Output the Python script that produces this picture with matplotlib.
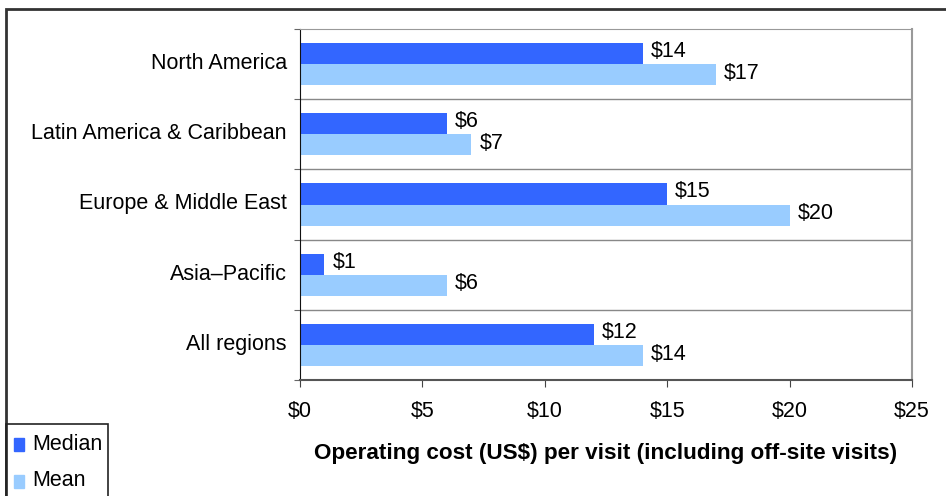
import matplotlib
matplotlib.use("Agg")
import matplotlib.pyplot as plt
from matplotlib.patches import Rectangle
import numpy as np

plt.rcParams['font.family'] = ['Liberation Sans', 'DejaVu Sans']

regions = ["North America", "Latin America & Caribbean", "Europe & Middle East",
           "Asia\u2013Pacific", "All regions"]
median = [14, 6, 15, 1, 12]
mean = [17, 7, 20, 6, 14]
xticks = [0, 5, 10, 15, 20, 25]

c_median = "#3366FF"
c_mean = "#99CCFF"
fs = 15.5

W, H = 946, 496
fig = plt.figure(figsize=(W / 100, H / 100), dpi=100)
ax = fig.add_axes([300 / W, 1 - 380 / H, 612 / W, 351 / H])

n = len(regions)
y = np.arange(n)
bh = 0.3
ax.barh(y - bh / 2, median, height=bh, color=c_median, label="Median")
ax.barh(y + bh / 2, mean, height=bh, color=c_mean, label="Mean")

for yi, v in zip(y, median):
    ax.text(v + 0.33, yi - bh / 2 - 0.03, f"${v}", va="center", ha="left", fontsize=fs)
for yi, v in zip(y, mean):
    ax.text(v + 0.33, yi + bh / 2 - 0.02, f"${v}", va="center", ha="left", fontsize=fs)

ax.set_ylim(n - 0.5, -0.5)
ax.set_xlim(0, 25)
ax.set_yticks(np.arange(-0.5, n, 1), minor=False)
ax.set_yticklabels([])
ax.set_yticks(y - 0.045, minor=True)
ax.set_yticklabels(regions, minor=True, fontsize=fs)
ax.tick_params(axis="y", which="minor", length=0, pad=9.5)
ax.tick_params(axis="y", which="major", length=4, color="#666666")
for b in np.arange(0.5, n - 1, 1):
    ax.axhline(b, color="#888888", lw=1.0)

ax.set_xticks(xticks)
ax.set_xticklabels([f"${t}" for t in xticks], fontsize=fs)
ax.tick_params(axis="x", length=5, color="#444444", pad=10)
ax.set_xlabel("Operating cost (US$) per visit (including off-site visits)",
              fontsize=16.2, fontweight="bold", labelpad=15)

ax.spines["left"].set_color("#111111")
ax.spines["bottom"].set_color("#555555")
ax.spines["bottom"].set_linewidth(1.5)
ax.spines["top"].set_color("#999999")
ax.spines["right"].set_color("#999999")
ax.spines["right"].set_linewidth(1.5)

# outer chart border
fig.patches.append(Rectangle((6 / W, -0.1), 1.2, 1 - 9 / H + 0.1,
                             transform=fig.transFigure, fill=False,
                             edgecolor="#333333", lw=2.0))
# legend box
fig.patches.append(Rectangle((6 / W, -0.1), 102 / W, 1 - 424 / H + 0.1,
                             transform=fig.transFigure, fill=False,
                             edgecolor="#222222", lw=1.2))
for ypx, col, lab in [(444, c_median, "Median"), (481, c_mean, "Mean")]:
    fig.patches.append(Rectangle((14 / W, 1 - (ypx + 7) / H), 10 / W, 13 / H,
                                 transform=fig.transFigure, color=col))
    fig.text(32 / W, 1 - ypx / H, lab, fontsize=fs, va="center", ha="left")

fig.savefig("out.png", dpi=100)
